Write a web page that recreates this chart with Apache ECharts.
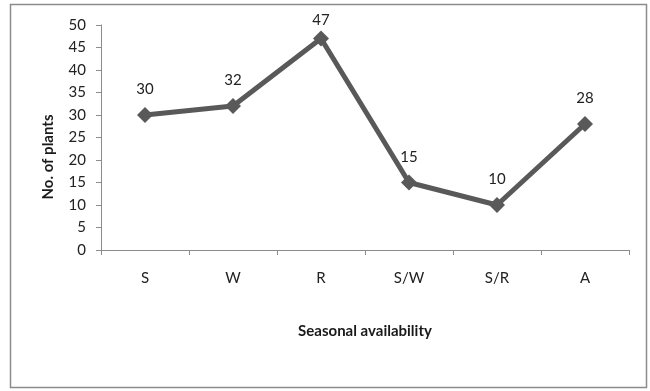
<!DOCTYPE html>
<html><head><meta charset="utf-8">
<script src="https://cdn.jsdelivr.net/npm/echarts@6/dist/echarts.min.js"></script>
<style>html,body{margin:0;padding:0;background:#fff}#c{width:650px;height:391px}</style>
</head><body><div id="c"></div>
<script>
const categories = ['S','W','R','S/W','S/R','A'];
const values = [30,32,47,15,10,28];
const chart = echarts.init(document.getElementById('c'));
const font = 'Lato, "Open Sans", sans-serif';
const seriesData = values.map((v,i)=> i===2 ? {value:v,label:{distance:3}} : v);
chart.setOption({
  backgroundColor:'#fff',
  animation:false,
  graphic:[
    {type:'rect',shape:{x:10.5,y:4.5,width:636,height:383},style:{fill:'none',stroke:'#8c8c8c',lineWidth:1.5},silent:true},
    {type:'text',x:48,y:157,rotation:Math.PI/2,style:{text:'No. of plants',font:'bold 15px '+font,fill:'#1a1a1a',align:'center',verticalAlign:'middle'}}
  ],
  grid:{left:101,right:21,top:25,bottom:141},
  xAxis:{type:'category',data:categories,boundaryGap:true,
    name:'Seasonal availability',nameLocation:'middle',nameGap:74,
    nameTextStyle:{fontFamily:font,fontSize:15,fontWeight:'bold',color:'#1a1a1a'},
    axisLine:{lineStyle:{color:'#8c8c8c',width:1}},
    axisTick:{show:true,length:5,inside:false,lineStyle:{color:'#8c8c8c'}},
    axisLabel:{fontFamily:font,fontSize:15,color:'#222',margin:21}},
  yAxis:{type:'value',min:0,max:50,interval:5,
    axisLine:{show:true,lineStyle:{color:'#8c8c8c',width:1}},
    axisTick:{show:true,length:5,lineStyle:{color:'#8c8c8c'}},
    splitLine:{show:false},
    axisLabel:{fontFamily:font,fontSize:15,color:'#222',margin:15}},
  series:[{type:'line',data:seriesData,symbol:'diamond',symbolSize:16,
    lineStyle:{color:'#595959',width:5},
    itemStyle:{color:'#595959'},
    label:{show:true,position:'top',distance:10,fontFamily:font,fontSize:15,color:'#222'}}]
});
</script></body></html>
